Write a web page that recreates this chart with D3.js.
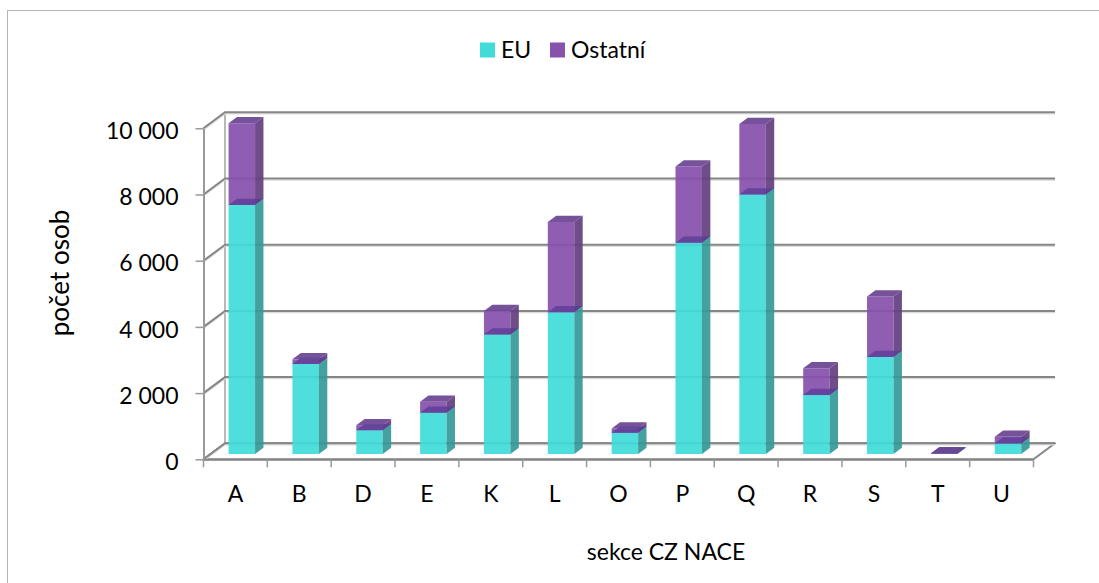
<!DOCTYPE html>
<html><head><meta charset="utf-8">
<script src="https://cdn.jsdelivr.net/npm/d3@7/dist/d3.min.js"></script>
<style>
html,body{margin:0;padding:0;background:#fff;}
svg{display:block;font-family:Lato,"Open Sans",sans-serif;}
</style></head>
<body>
<svg id="chart" width="1099" height="583"></svg>
<script>
const categories = ["A","B","D","E","K","L","O","P","Q","R","S","T","U"];
const euValues = [7520, 2720, 720, 1250, 3610, 4280, 640, 6380, 7840, 1780, 2930, 5, 320];
const ostatniValues = [2470, 140, 150, 330, 710, 2730, 130, 2310, 2130, 810, 1830, 15, 200];
const seriesNames = ["EU", "Ostatní"];
const yTickValues = [0, 2000, 4000, 6000, 8000, 10000];
const yTickLabels = ["0", "2 000", "4 000", "6 000", "8 000", "10 000"];
const yTitle = "počet osob";
const xTitle = "sekce CZ NACE";

const svg = d3.select("#chart");

// frame
svg.append("rect").attr("x",7.5).attr("y",10.5).attr("width",1200).attr("height",700)
  .attr("fill","#fff").attr("stroke","#b4b4b4").attr("stroke-width",1);

const X0 = 203.5, X1 = 1033.5, YF0 = 459.3, YF1 = 128.3;
const DX = 21.5, DY = -16;
const x = d3.scaleBand().domain(categories).range([X0, X1]).padding(0);
const y = d3.scaleLinear().domain([0, 10000]).range([YF0, YF1]);
const P = (px, v, d) => [px + DX*d, y(v) + DY*d];
const poly = pts => pts.map(p => p.join(",")).join(" ");

const gridColor = "#868686";
const g = svg.append("g");

// floor
g.append("polygon")
  .attr("points", poly([P(X0,0,0), P(X1,0,0), P(X1,0,1), P(X0,0,1)]))
  .attr("fill","#fff").attr("stroke", gridColor).attr("stroke-width",2).attr("stroke-linejoin","round");

// back wall vertical
g.append("line").attr("x1",P(X0,0,1)[0]).attr("x2",P(X0,0,1)[0])
  .attr("y1",P(X0,0,1)[1]).attr("y2",P(X0,10000,1)[1])
  .attr("stroke","#a0a0a0").attr("stroke-width",1.5);

// gridlines (side wall diagonal + back wall horizontal)
yTickValues.forEach(v => {
  const a = P(X0, v, 0), b = P(X0, v, 1), c = P(X1, v, 1);
  g.append("polyline").attr("points", poly([[a[0],a[1]+1.5],[b[0],b[1]+1.5],[c[0],c[1]+1.5]]))
    .attr("fill","none").attr("stroke","#dcdcdc").attr("stroke-width",1.5);
  g.append("polyline").attr("points", poly([a, b, c]))
    .attr("fill","none").attr("stroke", gridColor).attr("stroke-width",2);
});

// axes
const yAxis = d3.axisLeft(y).tickValues(yTickValues)
  .tickFormat((d,i) => yTickLabels[i]).tickSize(8).tickSizeOuter(0).tickPadding(17);
const ya = svg.append("g").attr("transform",`translate(${X0},0)`).call(yAxis);
ya.select(".domain").attr("stroke","#9a9a9a").attr("stroke-width",2);
ya.selectAll(".tick line").attr("stroke","#9a9a9a").attr("stroke-width",1.5);
ya.selectAll(".tick text").attr("font-family","Lato").attr("font-size",23)
  .attr("fill","#000").attr("dy","0.44em");

const xAxis = d3.axisBottom(x).tickSize(0).tickSizeOuter(0);
const xa = svg.append("g").attr("transform",`translate(0,${YF0})`).call(xAxis);
xa.select(".domain").attr("stroke", gridColor).attr("stroke-width",2);
xa.selectAll(".tick text").attr("font-family","Lato").attr("font-size",23)
  .attr("fill","#000").attr("y",42.5).attr("dy",0);
// category boundary ticks
const bounds = categories.map(c => x(c)).concat([X1]);
svg.append("g").selectAll("line").data(bounds).join("line")
  .attr("x1",d=>d).attr("x2",d=>d).attr("y1",YF0).attr("y2",YF0+8)
  .attr("stroke","#9a9a9a").attr("stroke-width",1.5);

// bars
const colors = {
  EU: {front:"#41dbd8", side:"#379a98", top:"#3cc7c4"},
  Ost: {front:"#8652ac", side:"#633f80", top:"#6b4592", junction:"#5f3b97"}
};
const DF = 0.33, DB = 0.72;
const barW = x.bandwidth()*0.415;
const bars = svg.append("g");
categories.forEach((c,i) => {
  const left = x(c) + (x.bandwidth()-barW)/2 - 0.7;
  const right = left + barW;
  const segs = [
    {v0:0, v1:euValues[i], col:colors.EU, key:"EU"},
    {v0:euValues[i], v1:euValues[i]+ostatniValues[i], col:colors.Ost, key:"Ost"}
  ];
  segs.forEach(s => {
    const gg = bars.append("g").attr("fill-opacity",0.93);
    gg.append("polygon").attr("points", poly([P(left,s.v1,DF),P(right,s.v1,DF),P(right,s.v0,DF),P(left,s.v0,DF)]))
      .attr("fill", s.col.front);
    gg.append("polygon").attr("points", poly([P(right,s.v1,DF),P(right,s.v1,DB),P(right,s.v0,DB),P(right,s.v0,DF)]))
      .attr("fill", s.col.side);
    if (s.key === "Ost") {
      gg.append("polygon").attr("points", poly([P(left,s.v0,DF),P(right,s.v0,DF),P(right,s.v0,DB),P(left,s.v0,DB)]))
        .attr("fill", s.col.junction).attr("fill-opacity",0.75);
    }
    gg.append("polygon").attr("points", poly([P(left,s.v1,DF),P(right,s.v1,DF),P(right,s.v1,DB),P(left,s.v1,DB)]))
      .attr("fill", s.col.top);
  });
});

// legend
const legend = svg.append("g");
const legItems = [
  {name: seriesNames[0], color: colors.EU.front, x: 480},
  {name: seriesNames[1], color: colors.Ost.front, x: 550}
];
legItems.forEach(it => {
  legend.append("rect").attr("x",it.x).attr("y",42.5).attr("width",15).attr("height",15).attr("fill",it.color);
  legend.append("text").attr("x",it.x+21).attr("y",57.5).attr("font-size",23).attr("fill","#000").text(it.name);
});

// titles
svg.append("text").attr("x",666).attr("y",560).attr("text-anchor","middle")
  .attr("font-size",23).attr("fill","#000").text(xTitle);
svg.append("text").attr("transform","translate(68.5,273) rotate(-90)").attr("text-anchor","middle")
  .attr("font-size",26).attr("fill","#000").text(yTitle);
</script>
</body></html>
